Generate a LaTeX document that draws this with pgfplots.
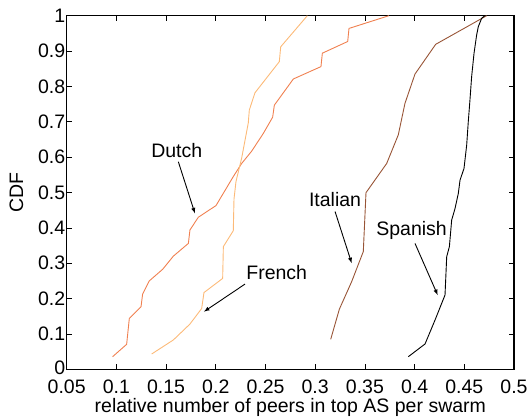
\documentclass[border=0pt]{standalone}
\usepackage{pgfplots}
\pgfplotsset{compat=1.18}
\usepackage{fontspec}
\setmainfont{Liberation Sans}
\definecolor{dutch}{RGB}{240,128,80}
\definecolor{french}{RGB}{252,186,120}
\definecolor{italian}{RGB}{152,84,54}
\begin{document}
\begin{tikzpicture}
\begin{axis}[
  scale only axis,
  width=447.3pt, height=353.6pt,
  xmin=0.05, xmax=0.5, ymin=0, ymax=1,
  xtick={0.05,0.1,...,0.51},
  ytick={0,0.1,...,1.01},
  xticklabels={0.05,0.1,0.15,0.2,0.25,0.3,0.35,0.4,0.45,0.5},
  yticklabels={\raisebox{3pt}{0},0.1,0.2,0.3,0.4,0.5,0.6,0.7,0.8,0.9,1},
  scaled ticks=false,
  tick align=inside,
  tick pos=both,
  major tick length=5pt,
  tick style={black, line width=0.6pt},
  axis line style={black, line width=1.3pt},
  ticklabel style={font=\fontsize{19.5}{21}\selectfont},
  xticklabel style={yshift=-7pt},
  yticklabel style={xshift=2pt},
  label style={font=\fontsize{19.5}{21}\selectfont},
  xlabel={relative number of peers in top AS per swarm},
  ylabel={CDF},
  xlabel style={yshift=2pt},
  ylabel style={yshift=8pt},
  clip=false,
]
% Dutch
\addplot[dutch, line width=0.9pt] coordinates {
(0.0962,0.0357) (0.1103,0.0706) (0.1130,0.144) (0.1248,0.177) (0.1264,0.213)
(0.1331,0.250) (0.1466,0.283) (0.1573,0.320) (0.1724,0.356) (0.1740,0.394)
(0.1824,0.430) (0.2002,0.463) (0.2176,0.545) (0.2260,0.582) (0.2361,0.617)
(0.2478,0.667) (0.2572,0.713) (0.2589,0.747) (0.2780,0.821) (0.3058,0.856)
(0.3072,0.894) (0.3327,0.927) (0.3340,0.964) (0.3742,1.0)
};
% French
\addplot[french, line width=0.9pt] coordinates {
(0.1355,0.0433) (0.1573,0.083) (0.1740,0.128) (0.1858,0.172) (0.1881,0.217)
(0.2069,0.257) (0.2076,0.347) (0.2176,0.392) (0.2183,0.481) (0.2203,0.531)
(0.2260,0.597) (0.2327,0.697) (0.2337,0.733) (0.2394,0.782) (0.2639,0.870)
(0.2653,0.912) (0.2790,0.957) (0.2921,1.0)
};
% Italian
\addplot[italian, line width=0.9pt] coordinates {
(0.3156,0.0848) (0.3243,0.170) (0.3367,0.248) (0.3484,0.333) (0.3511,0.4995)
(0.3719,0.582) (0.3836,0.663) (0.3903,0.752) (0.4004,0.835) (0.4212,0.919)
(0.4725,1.0)
};
% Spanish
\addplot[black, line width=0.9pt] coordinates {
(0.3937,0.0357) (0.4105,0.0716) (0.4205,0.139) (0.4306,0.210) (0.4323,0.3185)
(0.4350,0.347) (0.4373,0.422) (0.4407,0.455) (0.4440,0.4977) (0.4457,0.535)
(0.4497,0.568) (0.4524,0.634) (0.4540,0.700) (0.4557,0.762) (0.4574,0.828)
(0.4598,0.894) (0.4624,0.945) (0.4641,0.969) (0.4675,0.993) (0.4708,1.0)
};
\node[font=\fontsize{19.5}{21}\selectfont] at (axis cs:0.1607,0.618) {Dutch};
\draw[-latex, line width=0.9pt] (axis cs:0.1623,0.587) -- (axis cs:0.1790,0.441);
\node[font=\fontsize{19.5}{21}\selectfont] at (axis cs:0.2613,0.273) {French};
\draw[-latex, line width=0.9pt] (axis cs:0.2294,0.241) -- (axis cs:0.1881,0.163);
\node[font=\fontsize{19.5}{21}\selectfont] at (axis cs:0.3200,0.479) {Italian};
\draw[-latex, line width=0.9pt] (axis cs:0.3200,0.446) -- (axis cs:0.3367,0.300);
\node[font=\fontsize{19.5}{21}\selectfont] at (axis cs:0.3970,0.394) {Spanish};
\draw[-latex, line width=0.9pt] (axis cs:0.4004,0.356) -- (axis cs:0.4232,0.210);
\end{axis}
\pgfresetboundingbox
\path[use as bounding box] ([shift={(-66.7pt,-49.7pt)}]current axis.south west) rectangle ([shift={(13pt,15.7pt)}]current axis.north east);
\end{tikzpicture}
\end{document}
